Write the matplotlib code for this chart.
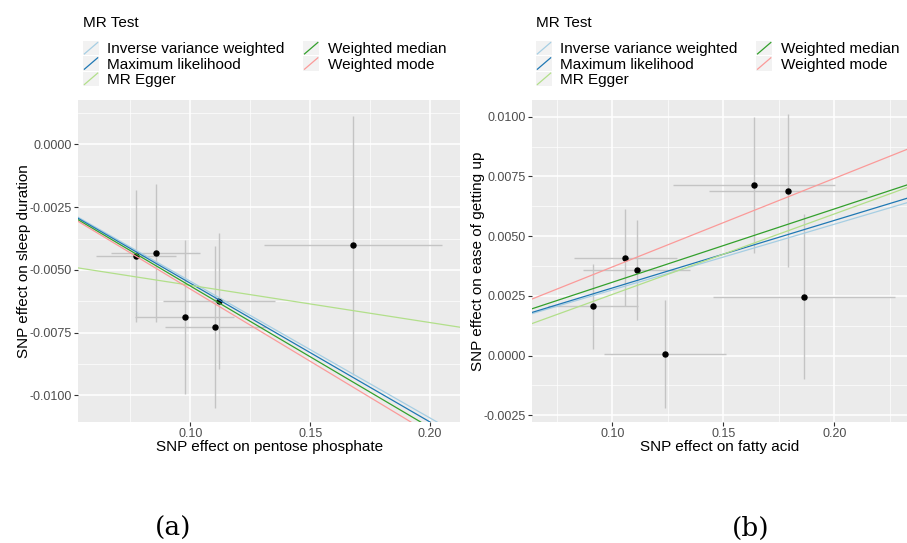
import matplotlib
matplotlib.use("Agg")
import matplotlib.pyplot as plt
from matplotlib.legend_handler import HandlerBase
from matplotlib.lines import Line2D
from matplotlib.patches import Rectangle
import numpy as np

plt.rcParams['font.family'] = ['Liberation Sans', 'DejaVu Sans']
plt.rcParams['axes.unicode_minus'] = False

# ---------------- data ----------------
methods = ["Inverse variance weighted", "Maximum likelihood", "MR Egger",
           "Weighted median", "Weighted mode"]
method_colors = ["#A6CEE3", "#1F78B4", "#B2DF8A", "#33A02C", "#FB9A99"]

# panel (a): pentose phosphate -> sleep duration
bx_a = [0.0774, 0.0855, 0.0976, 0.1104, 0.1121, 0.1679]
by_a = [-0.00444, -0.00433, -0.00688, -0.00727, -0.00623, -0.00401]
sex_a = [0.0168, 0.0184, 0.0207, 0.0210, 0.0234, 0.0371]
sey_a = [0.00264, 0.00276, 0.00308, 0.00322, 0.00270, 0.00516]
slope_a = [-0.0545, -0.0553, -0.01484, -0.0564, -0.0576]
icpt_a = [0.0, 0.0, -0.00413, 0.0, 0.0]
xticks_a = [0.10, 0.15, 0.20]
xticklabels_a = ["0.10", "0.15", "0.20"]
yticks_a = [0.0, -0.0025, -0.0050, -0.0075, -0.0100]
yticklabels_a = ["0.0000", "-0.0025", "-0.0050", "-0.0075", "-0.0100"]
xlim_a = (0.0533, 0.2125)
ylim_a = (-0.01106, 0.00177)

# panel (b): fatty acid -> ease of getting up
bx_b = [0.0914, 0.1059, 0.1110, 0.1237, 0.1638, 0.1791, 0.1862]
by_b = [0.00207, 0.00409, 0.00359, 0.00006, 0.00714, 0.00691, 0.00247]
sex_b = [0.0202, 0.0233, 0.0240, 0.0276, 0.0364, 0.0357, 0.0409]
sey_b = [0.00178, 0.00203, 0.00208, 0.00226, 0.00283, 0.00319, 0.00344]
slope_b = [0.0275, 0.0283, 0.0337, 0.0307, 0.0371]
icpt_b = [0.0, 0.0, -0.00081, 0.0, 0.0]
xticks_b = [0.10, 0.15, 0.20]
xticklabels_b = ["0.10", "0.15", "0.20"]
yticks_b = [-0.0025, 0.0, 0.0025, 0.0050, 0.0075, 0.0100]
yticklabels_b = ["-0.0025", "0.0000", "0.0025", "0.0050", "0.0075", "0.0100"]
xlim_b = (0.0637, 0.2327)
ylim_b = (-0.00278, 0.0107)

W, H = 907, 543
fig = plt.figure(figsize=(W / 100, H / 100), dpi=100)


def px_axes(x0, y0, x1, y1):
    return fig.add_axes([x0 / W, 1 - y1 / H, (x1 - x0) / W, (y1 - y0) / H])


def style_axes(ax, xticks, xtl, yticks, ytl, xlim, ylim):
    ax.set_facecolor("#EBEBEB")
    for s in ax.spines.values():
        s.set_visible(False)
    ax.set_xticks(xticks)
    ax.set_xticklabels(xtl)
    ax.set_yticks(yticks)
    ax.set_yticklabels(ytl)
    xs = np.diff(xticks)[0]
    ys = abs(np.diff(yticks)[0])
    xm = np.arange(min(xticks) - xs * 1.5, max(xticks) + xs * 2, xs)
    ym = np.arange(min(yticks) - ys * 1.5, max(yticks) + ys * 2, ys)
    ax.set_xticks(xm, minor=True)
    ax.set_yticks(ym, minor=True)
    ax.set_xlim(*xlim)
    ax.set_ylim(*ylim)
    ax.grid(which="major", color="white", linewidth=1.1)
    ax.grid(which="minor", color="white", linewidth=0.5)
    ax.set_axisbelow(True)
    ax.tick_params(which="major", length=3, width=0.8, color="#333333",
                   labelcolor="#4D4D4D", labelsize=9, pad=1.5)
    ax.tick_params(which="minor", length=0)


def draw_panel(ax, bx, by, sex, sey, slopes, icpts):
    ax.errorbar(bx, by, xerr=sex, yerr=sey, fmt="none", ecolor="#C4C4C4",
                elinewidth=1.0, capsize=0, zorder=2)
    ax.scatter(bx, by, s=13, color="black", zorder=3)
    for m, c, s, i in zip(methods, method_colors, slopes, icpts):
        ax.axline((0, i), slope=s, color=c, linewidth=0.9, zorder=4, label=m)


class DiagHandler(HandlerBase):
    def create_artists(self, legend, orig_handle, xdescent, ydescent,
                       width, height, fontsize, trans):
        rect = Rectangle((-xdescent, -ydescent), width, height,
                         facecolor="#F2F2F2", edgecolor="none", transform=trans)
        ln = Line2D([-xdescent + 1, -xdescent + width - 1],
                    [-ydescent + 1, -ydescent + height - 1],
                    color=orig_handle.get_color(), linewidth=0.9,
                    transform=trans)
        return [rect, ln]


def add_legend(ax, x_px, y_px):
    handles = [Line2D([], [], color=c) for c in method_colors]
    leg = fig.legend(handles, methods, loc="upper left",
                     bbox_to_anchor=(x_px / W, 1 - y_px / H),
                     ncol=2, frameon=False, fontsize=11,
                     title="MR Test", title_fontsize=11,
                     handler_map={Line2D: DiagHandler()},
                     handlelength=1.05, handleheight=1.05, handletextpad=0.55,
                     labelspacing=0.0, columnspacing=1.2, borderpad=0,
                     borderaxespad=0)
    leg._legend_box.align = "left"
    leg._legend_box.sep = 8
    return leg


# panel (a)
ax1 = px_axes(78.3, 100, 460, 422)
style_axes(ax1, xticks_a, xticklabels_a, yticks_a, yticklabels_a, xlim_a, ylim_a)
draw_panel(ax1, bx_a, by_a, sex_a, sey_a, slope_a, icpt_a)
ax1.set_xlabel("SNP effect on pentose phosphate", fontsize=11, labelpad=0)
ax1.set_ylabel("SNP effect on sleep duration", fontsize=11, labelpad=-1)
add_legend(ax1, 83, 16)

# panel (b)
ax2 = px_axes(531.7, 100, 907, 422)
style_axes(ax2, xticks_b, xticklabels_b, yticks_b, yticklabels_b, xlim_b, ylim_b)
draw_panel(ax2, bx_b, by_b, sex_b, sey_b, slope_b, icpt_b)
ax2.set_xlabel("SNP effect on fatty acid", fontsize=11, labelpad=0)
ax2.set_ylabel("SNP effect on ease of getting up", fontsize=11, labelpad=-1)
add_legend(ax2, 536, 16)

fig.text(172.7 / W, 1 - 528 / H, "(a)", ha="center", va="center",
         fontsize=19, family=["DejaVu Serif"])
fig.text(751 / W, 1 - 528 / H, "(b)", ha="center", va="center",
         fontsize=19, family=["DejaVu Serif"])

fig.savefig("out.png", dpi=100)
